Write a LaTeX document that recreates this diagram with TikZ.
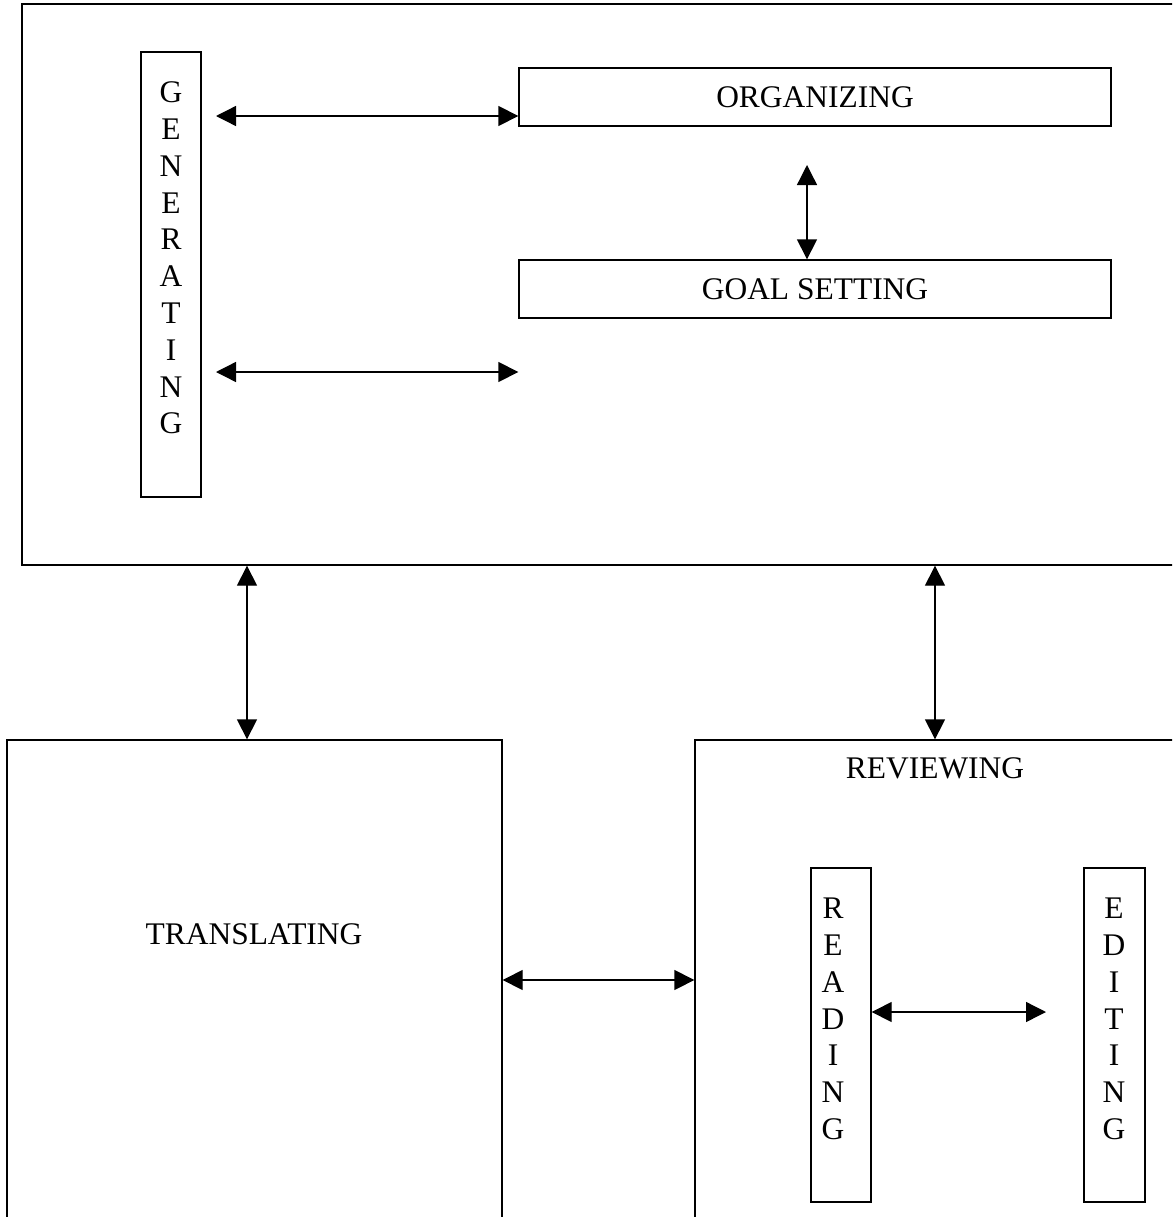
\documentclass[tikz,border=0pt]{standalone}
\usepackage{fontspec}
\setmainfont{Liberation Serif}
\usetikzlibrary{arrows.meta,fit}

\begin{document}
\begin{tikzpicture}[x=0.75pt,y=0.75pt,yscale=-1,xscale=1,
  box/.style={draw, line width=1pt, inner sep=0pt},
  biarrow/.style={{Triangle[length=15pt,width=15pt]}-{Triangle[length=15pt,width=15pt]}, line width=1pt},
  txt/.style={inner sep=0pt, font=\fontsize{23.6}{27.6}\selectfont},
  vtxt/.style={txt, align=center}]
\useasboundingbox (0,0) rectangle (1172,1217);
\clip (0,0) rectangle (1172,1217);

%Shape: Rectangle [planning, runs off the page on the right]
\node[box, fit={(22,4) (1200,565)}] (plan) {};
%Shape: Rectangle
\node[box, fit={(141,52) (201,497)}] (gen) {};
\node[box, fit={(519,68) (1111,126)}] (org) {};
\node[box, fit={(519,260) (1111,318)}] (goal) {};
%Shape: Rectangle [cut at the bottom]
\node[box, fit={(7,740) (502,1240)}] (trans) {};
\node[box, fit={(695,740) (1200,1240)}] (rev) {};
\node[box, fit={(811,868) (871,1202)}] (read) {};
\node[box, fit={(1084,868) (1145,1202)}] (edit) {};

% Text Node
\node[txt] (orgtext) at (org.center) {ORGANIZING};
\node[txt] (goaltext) at (goal.center) {GOAL SETTING};
\node[txt] (transtext) at (254,934) {TRANSLATING};
\node[txt] (revtext) at (935,768) {REVIEWING};
\node[vtxt] (gentext) at (171,258) {G\\E\\N\\E\\R\\A\\T\\I\\N\\G};
\node[vtxt] (readtext) at (833,1019) {R\\E\\A\\D\\I\\N\\G};
\node[vtxt] (edittext) at (1114,1019) {E\\D\\I\\T\\I\\N\\G};

%Straight Lines
\coordinate (g1) at (216,116);
\coordinate (g2) at (216,372);
\draw[biarrow] (g1) -- (g1 -| org.west);
\draw[biarrow] (g2) -- (g2 -| org.west);
\coordinate (o1) at (807,165);
\draw[biarrow] (o1) -- (o1 |- goal.north);
\coordinate (p1) at (247,0);
\coordinate (p2) at (935,0);
\draw[biarrow] (p1 |- plan.south) -- (p1 |- trans.north);
\draw[biarrow] (p2 |- plan.south) -- (p2 |- rev.north);
\coordinate (t1) at (0,980);
\draw[biarrow] (t1 -| trans.east) -- (t1 -| rev.west);
\coordinate (r1) at (1046,1012);
\draw[biarrow] (r1 -| read.east) -- (r1);

\end{tikzpicture}
\end{document}
